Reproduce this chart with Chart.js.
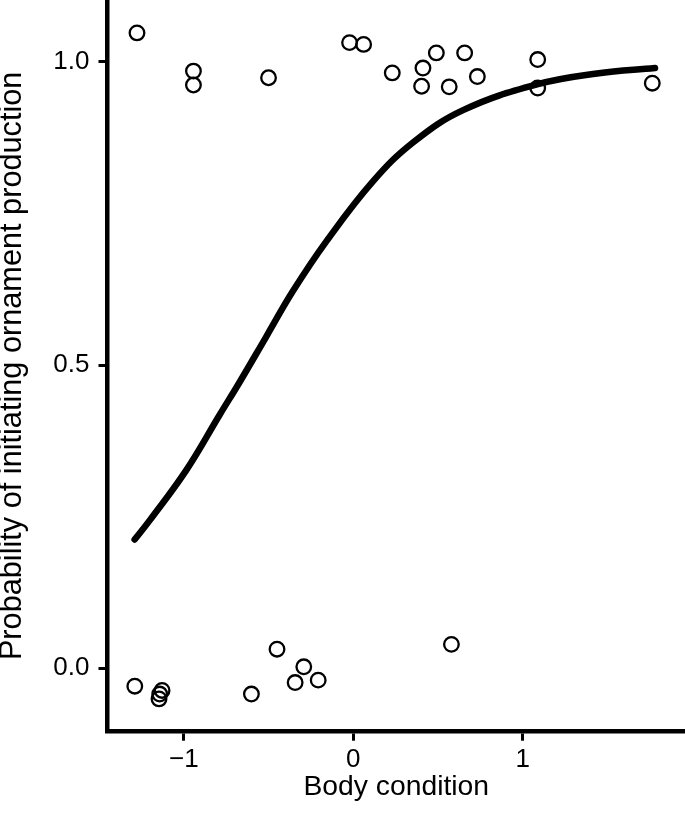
<!DOCTYPE html>
<html>
<head>
<meta charset="utf-8">
<script src="https://cdn.jsdelivr.net/npm/chart.js@4.4.1/dist/chart.umd.min.js"></script>
<style>
  html, body { margin: 0; padding: 0; background: #ffffff; }
  #wrap { width: 685px; height: 813px; position: relative; }
</style>
</head>
<body>
<div id="wrap"><canvas id="c"></canvas></div>
<script>
// Observed data points (body condition, jittered outcome)
const pointX = [-1.276, -0.943, -0.943, -0.500, -0.022, 0.061, 0.230, 0.411, 0.403, 0.490, 0.566, 0.657, 0.732, 1.088, 1.088, 1.764,
                -1.289, -1.128, -1.142, -1.146, -0.601, -0.450, -0.292, -0.343, -0.207, 0.579];
const pointY = [1.048, 0.985, 0.962, 0.974, 1.032, 1.029, 0.982, 0.990, 0.960, 1.015, 0.959, 1.015, 0.976, 1.004, 0.957, 0.965,
                -0.030, -0.037, -0.043, -0.051, -0.043, 0.031, 0.002, -0.024, -0.020, 0.039];

// Fitted curve
const curveX = [-1.29, -1.20, -0.984, -0.788, -0.670, -0.513, -0.356, -0.159, 0.116, 0.356, 0.651, 1.084, 1.438, 1.78];
const curveY = [0.212, 0.244, 0.327, 0.418, 0.472, 0.547, 0.622, 0.704, 0.803, 0.868, 0.921, 0.963, 0.981, 0.990];

const xTicks = [-1, 0, 1];
const yTicks = [0, 0.5, 1];
const yTickLabels = ['0.0', '0.5', '1.0'];
const xTickLabels = ['\u22121', '0', '1'];

const points = pointX.map((x, i) => ({ x: x, y: pointY[i] }));
const curve = curveX.map((x, i) => ({ x: x, y: curveY[i] }));

const FONT = '"Liberation Sans", Arial, Helvetica, sans-serif';

function zeroPad(s) { s.paddingTop = 0; s.paddingBottom = 0; s.paddingLeft = 0; s.paddingRight = 0; }

new Chart(document.getElementById('c'), {
  type: 'scatter',
  data: {
    datasets: [
      {
        type: 'line',
        data: curve,
        borderColor: '#000000',
        borderWidth: 6.5,
        borderCapStyle: 'round',
        borderJoinStyle: 'round',
        pointRadius: 0,
        fill: false,
        tension: 0.4,
        clip: false
      },
      {
        type: 'scatter',
        data: points,
        pointRadius: 7.3,
        pointBorderWidth: 2.3,
        pointBorderColor: '#000000',
        pointBackgroundColor: 'rgba(0,0,0,0)',
        borderColor: '#000000',
        backgroundColor: 'rgba(0,0,0,0)',
        clip: false
      }
    ]
  },
  options: {
    responsive: true,
    maintainAspectRatio: false,
    animation: false,
    devicePixelRatio: 1,
    layout: { padding: 0, autoPadding: false },
    plugins: { legend: { display: false }, tooltip: { enabled: false } },
    scales: {
      x: {
        type: 'linear',
        min: -1.450,
        max: 1.957,
        afterBuildTicks: (s) => { s.ticks = xTicks.map(v => ({ value: v })); },
        afterFit: (s) => { s.height = 81.3; zeroPad(s); },
        grid: { drawOnChartArea: false, drawTicks: true, tickLength: 9, tickWidth: 3, tickColor: '#000000', color: '#000000' },
        border: { display: true, width: 4.5, color: '#000000' },
        ticks: {
          padding: 4,
          color: '#000000',
          font: { family: FONT, size: 26 },
          maxRotation: 0,
          callback: (v) => { const i = xTicks.indexOf(v); return i >= 0 ? xTickLabels[i] : ''; }
        },
        title: {
          display: true,
          text: 'Body condition',
          color: '#000000',
          font: { family: FONT, size: 28.3 },
          padding: { top: 0, bottom: 9 }
        }
      },
      y: {
        type: 'linear',
        min: -0.1051,
        max: 1.1023,
        afterBuildTicks: (s) => { s.ticks = yTicks.map(v => ({ value: v })); },
        afterFit: (s) => { s.width = 107.5; zeroPad(s); },
        grid: { drawOnChartArea: false, drawTicks: true, tickLength: 9, tickWidth: 3, tickColor: '#000000', color: '#000000' },
        border: { display: true, width: 4.5, color: '#000000' },
        ticks: {
          padding: 9,
          color: '#000000',
          font: { family: FONT, size: 26 },
          callback: (v) => { const i = yTicks.indexOf(v); return i >= 0 ? yTickLabels[i] : ''; }
        },
        title: {
          display: true,
          text: 'Probability of initiating ornament production',
          color: '#000000',
          font: { family: FONT, size: 30.7, lineHeight: 0.8 },
          padding: { top: 0, bottom: 0 }
        }
      }
    }
  }
});
</script>
</body>
</html>
